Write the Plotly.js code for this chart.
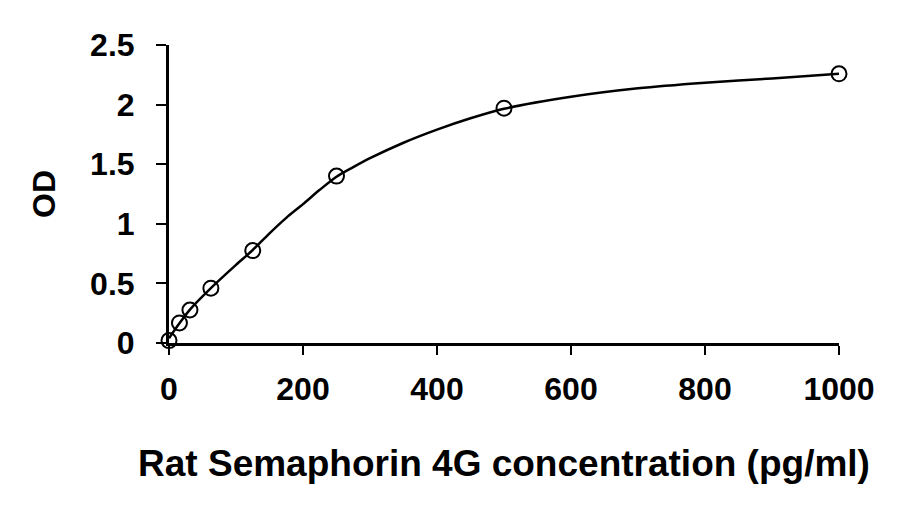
<!DOCTYPE html>
<html>
<head>
<meta charset="utf-8">
<script src="https://cdn.plot.ly/plotly-3.0.1.min.js"></script>
<style>html,body{margin:0;padding:0;background:#fff;}#chart{width:924px;height:514px;}</style>
</head>
<body>
<div id="chart"></div>
<script>
// Standard points (concentration pg/ml, OD)
const conc = [0, 15.6, 31.25, 62.5, 125, 250, 500, 1000];
const od = [0.02, 0.168, 0.277, 0.46, 0.775, 1.4, 1.97, 2.258];
// Fitted curve
const curveX = [0, 15.6, 31.25, 62.5, 100, 125, 150, 175, 200, 225, 250, 275, 300, 350, 400, 450, 500, 600, 700, 800, 900, 1000];
const curveY = [0.04, 0.165, 0.28, 0.46, 0.655, 0.78, 0.92, 1.05, 1.165, 1.285, 1.395, 1.475, 1.55, 1.68, 1.79, 1.885, 1.965, 2.066, 2.137, 2.184, 2.22, 2.258];
const xTicks = [0, 200, 400, 600, 800, 1000];
const yTicks = [0, 0.5, 1, 1.5, 2, 2.5];
const yTickText = ['0', '0.5', '1', '1.5', '2', '2.5'];
const xTitle = 'Rat Semaphorin 4G concentration (pg/ml)';
const yTitle = 'OD';

const font = 'Liberation Sans, Arial, sans-serif';
const traces = [
  {x: curveX, y: curveY, mode: 'lines', line: {color: '#000', width: 2.5, shape: 'spline', smoothing: 0.8}, hoverinfo: 'skip', cliponaxis: false},
  {x: conc, y: od, mode: 'markers', marker: {symbol: 'circle-open', size: 15, color: '#000', line: {width: 2, color: '#000'}}, cliponaxis: false}
];
const layout = {
  width: 924, height: 514,
  margin: {l: 169, r: 85, t: 45, b: 171},
  paper_bgcolor: '#fff', plot_bgcolor: '#fff',
  showlegend: false,
  font: {family: font, color: '#000'},
  xaxis: {
    range: [0, 1000], tickvals: xTicks, ticktext: xTicks.map(String),
    showgrid: false, zeroline: false, showline: true, linecolor: '#000', linewidth: 3,
    ticks: 'outside', ticklen: 9, tickwidth: 2, tickcolor: '#000',
    tickfont: {family: font, size: 32, color: '#000', weight: 'bold'},
    ticklabelstandoff: 7,
    title: {text: xTitle, font: {family: font, size: 37, color: '#000', weight: 'bold'}, standoff: 44}
  },
  yaxis: {
    range: [0, 2.5], tickvals: yTicks, ticktext: yTickText,
    showgrid: false, zeroline: false, showline: true, linecolor: '#000', linewidth: 3,
    ticks: 'outside', ticklen: 10, tickwidth: 2, tickcolor: '#000',
    tickfont: {family: font, size: 32, color: '#000', weight: 'bold'},
    ticklabelstandoff: 15,
    title: {text: yTitle, font: {family: font, size: 32, color: '#000', weight: 'bold'}, standoff: 25}
  }
};
Plotly.newPlot('chart', traces, layout, {displayModeBar: false, staticPlot: true});
</script>
</body>
</html>
